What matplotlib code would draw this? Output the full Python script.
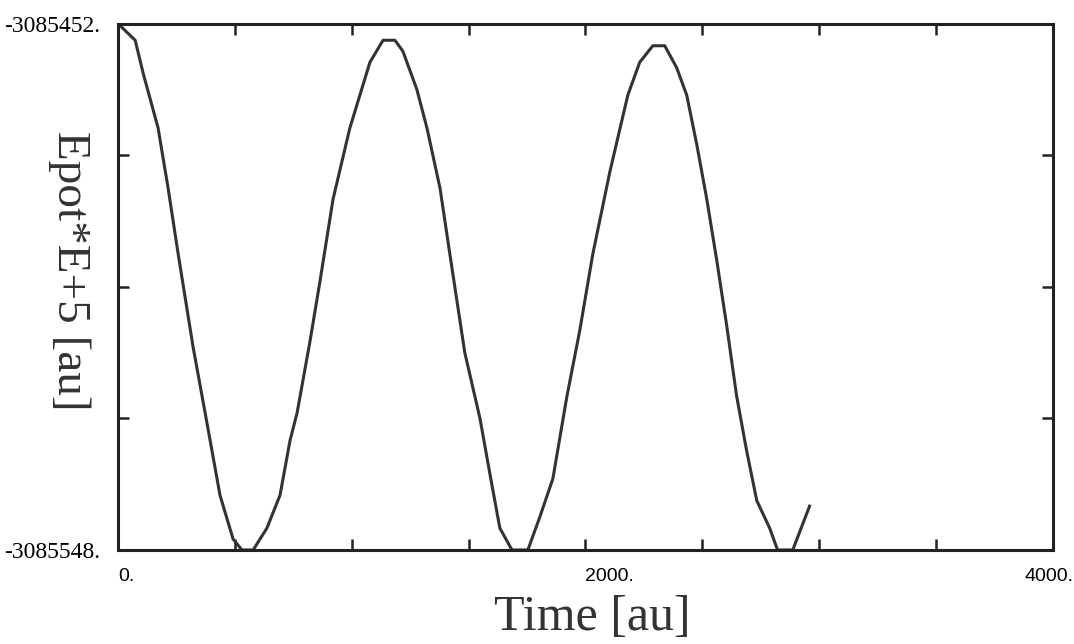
import numpy as np
import matplotlib
matplotlib.use('Agg')
import matplotlib.pyplot as plt

# values
time = [0, 73, 107, 171, 214, 257, 321, 381, 436, 492, 530, 578, 637, 693, 736,
        766, 821, 864, 920, 992, 1078, 1134, 1185, 1219, 1279, 1322, 1378, 1420,
        1484, 1549, 1591, 1634, 1686, 1754, 1805, 1861, 1921, 1976, 2032, 2105,
        2182, 2233, 2289, 2340, 2391, 2434, 2477, 2520, 2562, 2605, 2648, 2691,
        2734, 2789, 2823, 2888, 2960]
epot = [-3085452, -3085455, -3085461, -3085471, -3085482, -3085494, -3085511,
        -3085525, -3085538, -3085546, -3085548, -3085548, -3085544, -3085538,
        -3085528, -3085523, -3085510, -3085499, -3085484, -3085471, -3085459,
        -3085455, -3085455, -3085457, -3085464, -3085471, -3085482, -3085494,
        -3085512, -3085524, -3085534, -3085544, -3085548, -3085548, -3085542,
        -3085535, -3085520, -3085508, -3085494, -3085479, -3085465, -3085459,
        -3085456, -3085456, -3085460, -3085465, -3085474, -3085484, -3085495,
        -3085507, -3085520, -3085530, -3085539, -3085544, -3085548, -3085548,
        -3085540]

y_top = -3085452
y_bot = -3085548
x_ticks = np.arange(0, 4001, 500)
x_labels = {0: '0.', 2000: '2000.'}
y_ticks = np.linspace(y_bot, y_top, 5)

fig = plt.figure(figsize=(10.74, 6.44), dpi=100)
ax = fig.add_axes([0.11, 0.146, 0.870, 0.817])

ax.plot(time, epot, color='#333333', lw=2.2, solid_joinstyle='round')

ax.set_xlim(0, 4000)
ax.set_ylim(y_bot, y_top)

ax.set_xticks(x_ticks)
ax.set_xticklabels([x_labels.get(int(t), '') for t in x_ticks],
                   fontfamily='Liberation Sans', fontsize=14)
for lab in ax.get_xticklabels():
    lab.set_horizontalalignment('left')
# last label hangs slightly past the corner in the scan
ax.annotate('4000.', xy=(1, 0), xycoords='axes fraction',
            xytext=(-4, -18), textcoords='offset pixels',
            ha='center', va='top', fontfamily='Liberation Sans', fontsize=14)

ax.set_yticks(y_ticks)
ax.set_yticklabels(['-3085548.', '', '', '', '-3085452.'],
                   fontfamily='Liberation Serif', fontsize=17)

ax.tick_params(direction='in', length=8, width=1.8, top=True, right=True,
               color='#222222')
ax.tick_params(axis='x', pad=13)
ax.tick_params(axis='y', pad=13)

for s in ax.spines.values():
    s.set_linewidth(2.2)
    s.set_color('#222222')

ax.set_xlabel('Time [au]', fontfamily='Liberation Serif', fontsize=36,
              color='#333333')
ax.xaxis.set_label_coords(0.508, -0.085)
ax.set_ylabel('Epot*E+5 [au]', fontfamily='Liberation Serif', fontsize=34,
              color='#333333', rotation=270)
ax.yaxis.set_label_coords(-0.075, 0.53)

fig.savefig('out.png', dpi=100)
